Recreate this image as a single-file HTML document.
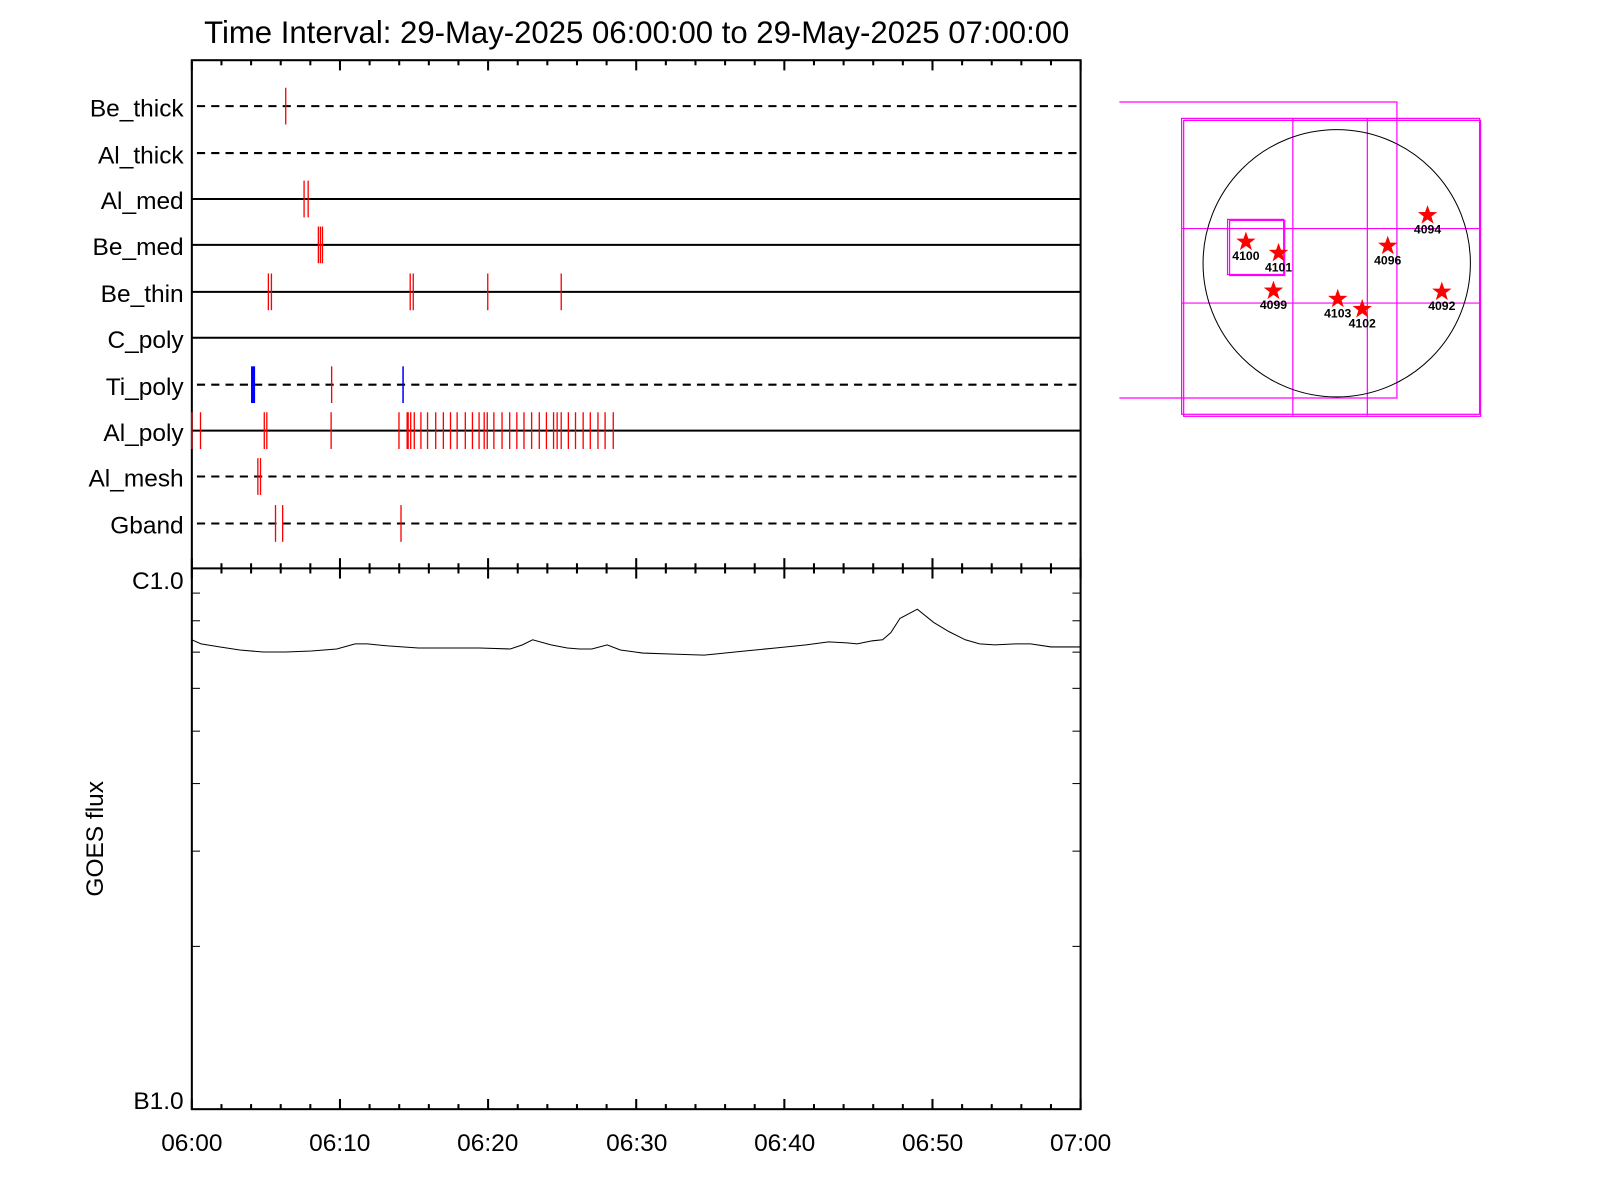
<!DOCTYPE html>
<html><head><style>
html,body{margin:0;padding:0;background:#fff;}
svg{display:block;}
text{font-family:"Liberation Sans",sans-serif;fill:#000;}
</style></head><body>
<svg width="1600" height="1200" viewBox="0 0 1600 1200" xmlns="http://www.w3.org/2000/svg">
<g transform="scale(1.0204)">
<text x="624" y="42" font-size="30.5" text-anchor="middle">Time Interval: 29-May-2025 06:00:00 to 29-May-2025 07:00:00</text>
<g stroke="#000" stroke-width="2" fill="none">
<rect x="188" y="59" width="871" height="1028"/>
<line x1="188" y1="557" x2="1059" y2="557"/>
</g>
<g id="ticks" stroke="#000" stroke-width="2"></g>
<g font-size="24" text-anchor="end">
<text x="180" y="114">Be_thick</text>
<text x="180" y="160">Al_thick</text>
<text x="180" y="205">Al_med</text>
<text x="180" y="250">Be_med</text>
<text x="180" y="296">Be_thin</text>
<text x="180" y="341">C_poly</text>
<text x="180" y="387">Ti_poly</text>
<text x="180" y="432">Al_poly</text>
<text x="180" y="477">Al_mesh</text>
<text x="180" y="523">Gband</text>
<text x="180" y="577">C1.0</text>
<text x="180" y="1087">B1.0</text>
</g>
<g stroke="#000" stroke-width="2">
<line x1="193" y1="104" x2="1057" y2="104" stroke-dasharray="8,6"/>
<line x1="193" y1="150" x2="1057" y2="150" stroke-dasharray="8,6"/>
<line x1="188" y1="195" x2="1059" y2="195"/>
<line x1="188" y1="240" x2="1059" y2="240"/>
<line x1="188" y1="286" x2="1059" y2="286"/>
<line x1="188" y1="331" x2="1059" y2="331"/>
<line x1="193" y1="377" x2="1057" y2="377" stroke-dasharray="8,6"/>
<line x1="188" y1="422" x2="1059" y2="422"/>
<line x1="193" y1="467" x2="1057" y2="467" stroke-dasharray="8,6"/>
<line x1="193" y1="513" x2="1057" y2="513" stroke-dasharray="8,6"/>
</g>
<g id="marks" stroke="#f00" stroke-width="1.3"></g>
<g font-size="24" text-anchor="middle">
<text x="188" y="1128">06:00</text><text x="333" y="1128">06:10</text><text x="478" y="1128">06:20</text>
<text x="624" y="1128">06:30</text><text x="769" y="1128">06:40</text><text x="914" y="1128">06:50</text><text x="1059" y="1128">07:00</text>
</g>
<text x="101" y="822" font-size="24" text-anchor="middle" transform="rotate(-90 101 822)">GOES flux</text>
<polyline fill="none" stroke="#000" stroke-width="1" points="188,627 197,631 215,634 235,637 258,639 280,639 305,638 330,636 348,631 360,631 380,633 410,635 440,635 470,635 500,636 512,632 522,627 540,632 556,635 568,636 580,636 595,632 608,637 630,640 660,641 690,642 700,641 730,638 760,635 790,632 812,629 830,630 840,631 855,628 865,627 873,620 882,606 899,597 915,610 930,619 946,627 960,631 975,632 995,631 1010,631 1030,634 1059,634"/>
<g stroke="#f0f" stroke-width="1.2" fill="none">
<polyline points="1097,100 1369,100 1369,390 1097,390"/>
<rect x="1158" y="116" width="292" height="290"/>
<rect x="1160" y="118" width="291" height="290"/>
<line x1="1267" y1="116" x2="1267" y2="407"/>
<line x1="1340" y1="116" x2="1340" y2="407"/>
<line x1="1158" y1="224" x2="1451" y2="224"/>
<line x1="1158" y1="297" x2="1451" y2="297"/>
<rect x="1203" y="215" width="55" height="54"/>
<rect x="1205" y="216" width="54" height="54"/>
</g>
<circle cx="1310" cy="258" r="131" fill="none" stroke="#000" stroke-width="1"/>
<g id="stars"></g>
</g>
</svg>
<script>
var NS="http://www.w3.org/2000/svg";
function ln(g,x1,y1,x2,y2,a){var l=document.createElementNS(NS,"line");l.setAttribute("x1",x1);l.setAttribute("y1",y1);l.setAttribute("x2",x2);l.setAttribute("y2",y2);if(a)for(var k in a)l.setAttribute(k,a[k]);g.appendChild(l);}
var t=document.getElementById("ticks");
for(var i=0;i<=30;i++){var x=188+i*871/30,maj=i%5==0;
ln(t,x,59,x,maj?69:64);ln(t,x,1087,x,maj?1077:1082);ln(t,x,maj?547:552,x,maj?567:562);}
for(var v=2;v<=9;v++){var y=1087-Math.log10(v)*530;ln(t,188,y,196,y,{"stroke-width":1});ln(t,1059,y,1051,y,{"stroke-width":1});}
var m=document.getElementById("marks");
var rows={104:[280],195:[298,302],240:[312,314,316],286:[263,266,402,405,478,550],377:[325],
422:[188,196.5,259,261.5,324.5,391,399,400,402.5,406,412.5,419,427,434.5,441.5,448,456,463,469.5,474.5,477.5,484,492,499.5,506.5,513.5,521,528.5,535.5,542.5,546,550,557,564,571.5,578.5,586,593,601],
467:[252.7,255.3],513:[270,277,393]};
for(var y in rows){rows[y].forEach(function(x){ln(m,x,+y-18,x,+y+18);});}
ln(m,248,359,248,395,{stroke:"#00f","stroke-width":4});
ln(m,395,359,395,395,{stroke:"#00f","stroke-width":1.5});
var s=document.getElementById("stars");
[[1221,237,"4100"],[1253,248,"4101"],[1248,285,"4099"],[1311,293,"4103"],[1335,303,"4102"],[1360,241,"4096"],[1399,211,"4094"],[1413,286,"4092"]].forEach(function(p){
var pts=[];for(var k=0;k<10;k++){var r=k%2?4:10,a=-Math.PI/2+k*Math.PI/5;pts.push((p[0]+r*Math.cos(a)).toFixed(1)+","+(p[1]+r*Math.sin(a)).toFixed(1));}
var pg=document.createElementNS(NS,"polygon");pg.setAttribute("points",pts.join(" "));pg.setAttribute("fill","#f00");s.appendChild(pg);
var tx=document.createElementNS(NS,"text");tx.setAttribute("x",p[0]);tx.setAttribute("y",p[1]+18);tx.setAttribute("font-size","12");tx.setAttribute("font-weight","bold");tx.setAttribute("text-anchor","middle");tx.textContent=p[2];s.appendChild(tx);});
</script>
</body></html>
